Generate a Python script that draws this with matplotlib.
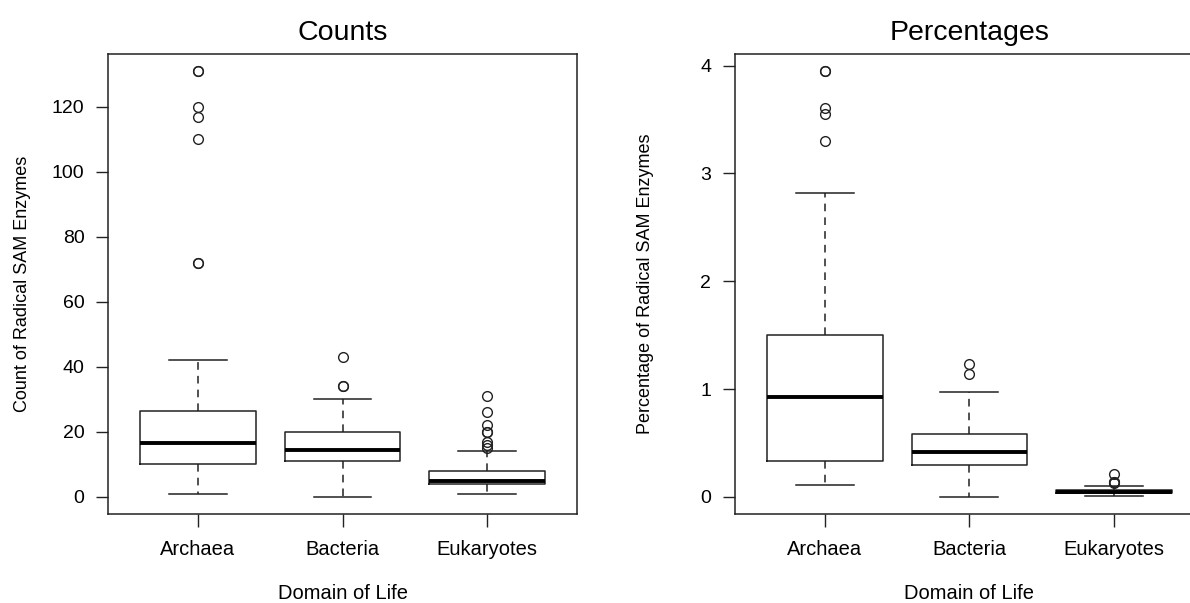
import matplotlib
matplotlib.use('Agg')
import matplotlib.pyplot as plt

plt.rcParams['font.family'] = ['Liberation Sans', 'DejaVu Sans']

domains = ['Archaea', 'Bacteria', 'Eukaryotes']

# Counts panel
count_whislo = [1, 0, 1]
count_q1 = [10, 11, 4]
count_med = [16.5, 14.5, 5]
count_q3 = [26.5, 20, 8]
count_whishi = [42, 30, 14]
count_fliers = [[72, 72, 110, 117, 120, 131, 131],
                [34, 34, 43],
                [15, 16, 17, 20, 20, 22, 26, 31]]
count_yticks = [0, 20, 40, 60, 80, 100, 120]

# Percentages panel
pct_whislo = [0.11, 0.0, 0.01]
pct_q1 = [0.33, 0.30, 0.035]
pct_med = [0.93, 0.42, 0.05]
pct_q3 = [1.50, 0.58, 0.065]
pct_whishi = [2.82, 0.97, 0.10]
pct_fliers = [[3.30, 3.55, 3.61, 3.95, 3.95],
              [1.14, 1.23],
              [0.13, 0.14, 0.14, 0.21]]
pct_yticks = [0, 1, 2, 3, 4]

LINE = '#222222'


def make_stats(whislo, q1, med, q3, whishi, fliers):
    stats = []
    for i in range(len(domains)):
        stats.append({'label': domains[i], 'whislo': whislo[i], 'q1': q1[i],
                      'med': med[i], 'q3': q3[i], 'whishi': whishi[i],
                      'fliers': fliers[i]})
    return stats


def draw_panel(ax, stats, title, ylabel, yticks, ylabel_x):
    ax.bxp(stats, positions=[1, 2, 3], widths=0.8, capwidths=0.4,
           boxprops=dict(color=LINE, linewidth=1.1),
           medianprops=dict(color='black', linewidth=2.8, solid_capstyle='butt'),
           whiskerprops=dict(color=LINE, linewidth=1.1, linestyle=(0, (5, 4))),
           capprops=dict(color=LINE, linewidth=1.1),
           flierprops=dict(marker='o', markerfacecolor='none', markeredgecolor=LINE,
                           markersize=7, markeredgewidth=1.0))

    # R style limits: 4% padding round the data range
    vals = []
    for s in stats:
        vals += [s['whislo'], s['whishi']] + list(s['fliers'])
    lo, hi = min(vals), max(vals)
    pad = 0.04 * (hi - lo)
    ax.set_ylim(lo - pad, hi + pad)
    ax.set_xlim(0.38, 3.62)

    ax.set_xticks([1, 2, 3])
    ax.set_xticklabels(domains)
    ax.set_yticks(yticks)
    ax.tick_params(direction='out', length=9, width=1, color=LINE)
    ax.tick_params(axis='x', pad=10, labelsize=14.5)
    ax.tick_params(axis='y', pad=8, labelsize=14)

    for sp in ax.spines.values():
        sp.set_linewidth(1.1)
        sp.set_color(LINE)

    ax.set_title(title, fontsize=20.5, pad=10)
    ax.set_xlabel('Domain of Life', fontsize=14.5, va='center')
    ax.xaxis.set_label_coords(0.5, -0.172)
    ax.set_ylabel(ylabel, fontsize=13, va='center')
    ax.yaxis.set_label_coords(ylabel_x, 0.5)


fig = plt.figure(figsize=(11.9, 6.03), dpi=100)
ax1 = fig.add_axes([0.0908, 0.1476, 0.3941, 0.7629])
ax2 = fig.add_axes([0.6176, 0.1476, 0.3941, 0.7629])

draw_panel(ax1, make_stats(count_whislo, count_q1, count_med, count_q3, count_whishi, count_fliers),
           'Counts', 'Count of Radical SAM Enzymes', count_yticks, -0.183)
draw_panel(ax2, make_stats(pct_whislo, pct_q1, pct_med, pct_q3, pct_whishi, pct_fliers),
           'Percentages', 'Percentage of Radical SAM Enzymes', pct_yticks, -0.19)

fig.savefig('out.png', dpi=100)
